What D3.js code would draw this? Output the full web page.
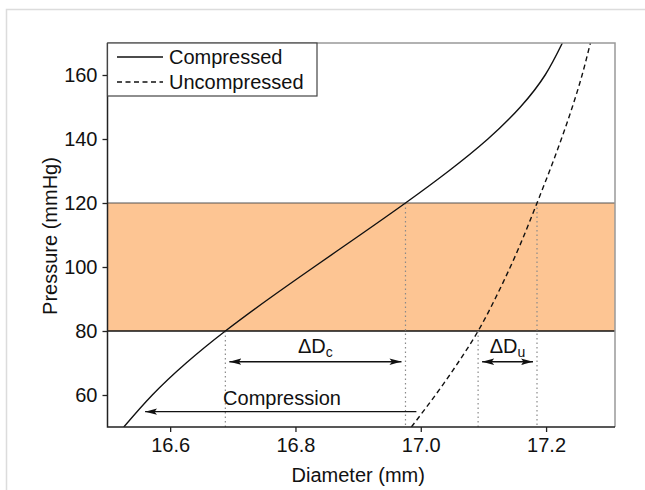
<!DOCTYPE html>
<html>
<head>
<meta charset="utf-8">
<script src="https://cdn.jsdelivr.net/npm/d3@7"></script>
<style>
  html, body { margin: 0; padding: 0; background: #fff; }
  svg text { font-family: 'Liberation Sans', Arial, sans-serif; fill: #111; }
</style>
</head>
<body>
<div id="chart"></div>
<script>
// curves: [diameter (mm), pressure (mmHg)]
const compressed = [
  [16.526, 50], [16.5715, 60], [16.6256, 70], [16.6881, 80], [16.7571, 90],
  [16.8296, 100], [16.9031, 110], [16.9756, 120], [17.0446, 130], [17.1071, 140],
  [17.1590, 150], [17.1985, 160], [17.2260, 170]
]
const uncompressed = [
  [16.985, 50], [17.0235, 60], [17.0592, 70], [17.0915, 80], [17.1185, 90],
  [17.1429, 100], [17.1651, 110], [17.1855, 120], [17.2055, 130], [17.2244, 140],
  [17.2419, 150], [17.2575, 160], [17.2707, 170]
]
const band = [80, 120]
const xTicks = [16.6, 16.8, 17.0, 17.2]
const yTicks = [60, 80, 100, 120, 140, 160]
// drop lines where the curves cross the band edges
const guides = [
  { d: 16.6881, p: 80 }, { d: 16.9756, p: 120 },
  { d: 17.0915, p: 80 }, { d: 17.1855, p: 120 }
]
const deltas = [
  { from: 16.6881, to: 16.9756, p: 70.4, label: 'ΔD', sub: 'c' },
  { from: 17.0915, to: 17.1855, p: 70.4, label: 'ΔD', sub: 'u' }
]
const compression = { from: 16.993, to: 16.560, p: 54.8, label: 'Compression' }
const legendItems = [
  { name: 'Compressed', dash: null },
  { name: 'Uncompressed', dash: '5,3.5' }
]

const width = 645
const height = 490
const plot = { left: 107.5, right: 615, top: 43, bottom: 427 }

const svg = d3.select('#chart').append('svg')
  .attr('width', width)
  .attr('height', height)

// thin page frame
svg.append('path')
  .attr('d', `M6.5,${height} V9.5 H${width}`)
  .attr('fill', 'none')
  .attr('stroke', '#dcdcdc')
  .attr('stroke-width', 1.5)

const x = d3.scaleLinear().domain([16.5, 17.31]).range([plot.left, plot.right])
const y = d3.scaleLinear().domain([50, 170]).range([plot.bottom, plot.top])

const defs = svg.append('defs')
defs.append('clipPath')
  .attr('id', 'clip')
  .append('rect')
  .attr('x', plot.left)
  .attr('y', plot.top)
  .attr('width', plot.right - plot.left)
  .attr('height', plot.bottom - plot.top)

defs.append('marker')
  .attr('id', 'head')
  .attr('viewBox', '0 0 12 8')
  .attr('refX', 12)
  .attr('refY', 4)
  .attr('markerWidth', 12)
  .attr('markerHeight', 8)
  .attr('markerUnits', 'userSpaceOnUse')
  .attr('orient', 'auto-start-reverse')
  .append('path')
  .attr('d', 'M0,0.8 L12,4 L0,7.2 L2.5,4 Z')
  .attr('fill', '#111')

// shaded pressure band
svg.append('rect')
  .attr('x', plot.left)
  .attr('width', plot.right - plot.left)
  .attr('y', y(band[1]))
  .attr('height', y(band[0]) - y(band[1]))
  .attr('fill', '#fdc593')
svg.append('line')
  .attr('x1', plot.left).attr('x2', plot.right)
  .attr('y1', y(band[1])).attr('y2', y(band[1]))
  .attr('stroke', '#555').attr('stroke-width', 1.2)
svg.append('line')
  .attr('x1', plot.left).attr('x2', plot.right)
  .attr('y1', y(band[0])).attr('y2', y(band[0]))
  .attr('stroke', '#111').attr('stroke-width', 1.5)

svg.selectAll('.guide')
  .data(guides)
  .join('line')
  .attr('class', 'guide')
  .attr('x1', d => x(d.d)).attr('x2', d => x(d.d))
  .attr('y1', d => y(d.p)).attr('y2', plot.bottom)
  .attr('stroke', '#8a8a8a')
  .attr('stroke-width', 1.2)
  .attr('stroke-dasharray', '1.5,3')

const line = d3.line()
  .x(d => x(d[0]))
  .y(d => y(d[1]))
  .curve(d3.curveNatural)

const curves = svg.append('g').attr('clip-path', 'url(#clip)')
curves.append('path')
  .datum(compressed)
  .attr('d', line)
  .attr('fill', 'none')
  .attr('stroke', '#111')
  .attr('stroke-width', 1.4)
curves.append('path')
  .datum(uncompressed)
  .attr('d', line)
  .attr('fill', 'none')
  .attr('stroke', '#111')
  .attr('stroke-width', 1.4)
  .attr('stroke-dasharray', '5,3.5')

// frame: dark left/bottom axes, lighter top/right
svg.append('path')
  .attr('d', `M${plot.left},${plot.top} H${plot.right} V${plot.bottom}`)
  .attr('fill', 'none')
  .attr('stroke', '#999')
  .attr('stroke-width', 1.5)

const xAxis = svg.append('g')
  .attr('transform', `translate(0,${plot.bottom})`)
  .call(d3.axisBottom(x).tickValues(xTicks).tickFormat(d3.format('.1f')).tickSize(5).tickPadding(6))
const yAxis = svg.append('g')
  .attr('transform', `translate(${plot.left},0)`)
  .call(d3.axisLeft(y).tickValues(yTicks).tickSize(5).tickPadding(5))

for (const ax of [xAxis, yAxis]) {
  ax.select('.domain').remove()
  ax.selectAll('line').attr('stroke', '#222').attr('stroke-width', 1.3)
  ax.selectAll('text')
    .attr('font-size', 20)
    .style('font-family', "'Liberation Sans', Arial, sans-serif")
    .attr('fill', '#111')
}

svg.append('path')
  .attr('d', `M${plot.left},${plot.top} V${plot.bottom} H${plot.right}`)
  .attr('fill', 'none')
  .attr('stroke', '#222')
  .attr('stroke-width', 1.5)

svg.append('text')
  .attr('x', (plot.left + plot.right) / 2 - 3)
  .attr('y', 482)
  .attr('text-anchor', 'middle')
  .attr('font-size', 20)
  .text('Diameter (mm)')

svg.append('text')
  .attr('transform', `translate(57,${(plot.top + plot.bottom) / 2 + 1}) rotate(-90)`)
  .attr('text-anchor', 'middle')
  .attr('font-size', 20)
  .text('Pressure (mmHg)')

// legend
const legend = svg.append('g')
legend.append('rect')
  .attr('x', plot.left)
  .attr('y', plot.top)
  .attr('width', 317 - plot.left)
  .attr('height', 96 - plot.top)
  .attr('fill', '#fff')
  .attr('stroke', '#444')
  .attr('stroke-width', 1.2)
const rows = legend.selectAll('g')
  .data(legendItems)
  .join('g')
  .attr('transform', (d, i) => `translate(0,${57 + i * 25})`)
rows.append('line')
  .attr('x1', 117).attr('x2', 163)
  .attr('stroke', '#111')
  .attr('stroke-width', 1.4)
  .attr('stroke-dasharray', d => d.dash)
rows.append('text')
  .attr('x', 169)
  .attr('y', 7)
  .attr('font-size', 20)
  .text(d => d.name)

// delta arrows, pulled in a little from the guides
const inset = 4
svg.selectAll('.delta')
  .data(deltas)
  .join('line')
  .attr('class', 'delta')
  .attr('x1', d => x(d.from) + inset)
  .attr('x2', d => x(d.to) - inset)
  .attr('y1', d => y(d.p)).attr('y2', d => y(d.p))
  .attr('stroke', '#111')
  .attr('stroke-width', 1.4)
  .attr('marker-start', 'url(#head)')
  .attr('marker-end', 'url(#head)')

const dl = svg.selectAll('.delta-label')
  .data(deltas)
  .join('text')
  .attr('class', 'delta-label')
  .attr('x', d => (x(d.from) + x(d.to)) / 2)
  .attr('y', d => y(d.p) - 9)
  .attr('text-anchor', 'middle')
  .attr('font-size', 20)
dl.append('tspan').text(d => d.label)
dl.append('tspan')
  .attr('font-size', 14)
  .attr('dy', 4)
  .text(d => d.sub)

svg.append('line')
  .attr('x1', x(compression.from))
  .attr('x2', x(compression.to))
  .attr('y1', y(compression.p)).attr('y2', y(compression.p))
  .attr('stroke', '#111')
  .attr('stroke-width', 1.4)
  .attr('marker-end', 'url(#head)')
svg.append('text')
  .attr('x', 282)
  .attr('y', y(compression.p) - 7)
  .attr('text-anchor', 'middle')
  .attr('font-size', 20)
  .text(compression.label)
</script>
</body>
</html>
